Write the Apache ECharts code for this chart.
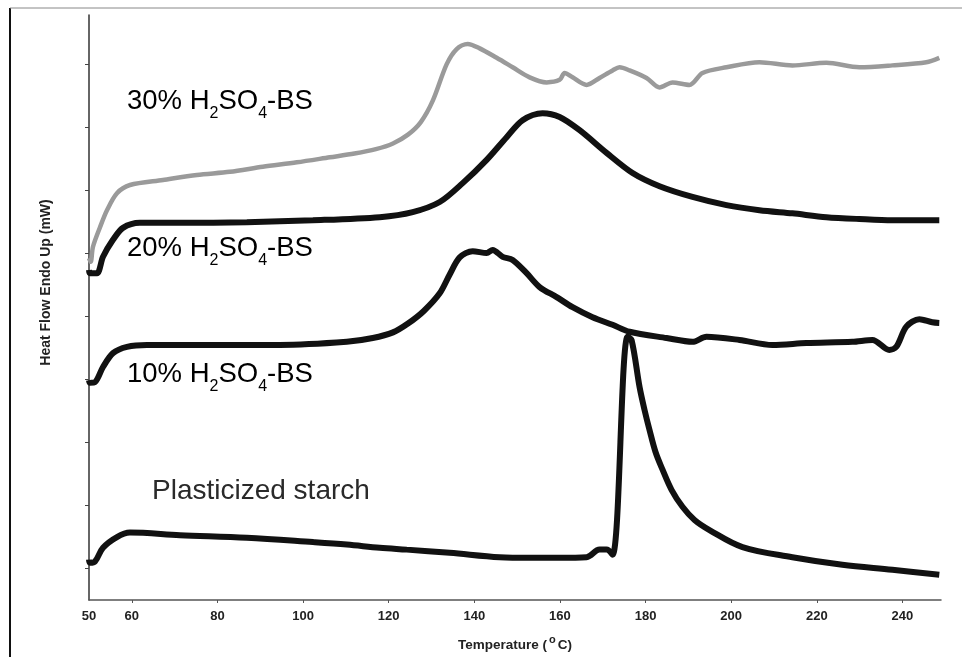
<!DOCTYPE html>
<html>
<head>
<meta charset="utf-8">
<script src="https://cdn.jsdelivr.net/npm/echarts@6/dist/echarts.min.js"></script>
<style>
html,body{margin:0;padding:0;background:#fff;}
#chart{width:967px;height:657px;}
</style>
</head>
<body>
<div id="chart"></div>
<script>
// Temperature (°C) tick labels
const xLabelValues = [50, 60, 80, 100, 120, 140, 160, 180, 200, 220, 240];
const xTickValues = [60, 80, 100, 120, 140, 160, 180, 200, 220, 240];
const yTickValues = [0, 1, 2, 3, 4, 5, 6, 7, 8];

// [temperature, heat flow (arb. mW units)]
const acid30 = [[50,4.92],[50.4,4.86],[50.93,5.10],[52.57,5.41],[54.2,5.68],[56.53,5.95],[59.57,6.08],[67.27,6.16],[75.2,6.24],[82.9,6.29],[90.6,6.37],[98.54,6.44],[106.24,6.52],[112,6.58],[117,6.65],[121,6.74],[124.5,6.88],[127.5,7.08],[130.3,7.42],[133.55,8.0],[135.88,8.24],[138.45,8.32],[141.25,8.25],[145.22,8.10],[148.95,7.95],[152.92,7.79],[156.88,7.71],[159.92,7.75],[161.08,7.86],[162.95,7.79],[166.22,7.67],[169.25,7.78],[172.29,7.90],[173.92,7.95],[176.26,7.90],[180.22,7.78],[183.26,7.63],[186.29,7.71],[190.26,7.67],[193.29,7.86],[198.89,7.95],[206.59,8.03],[214.29,7.98],[222.23,8.02],[229.93,7.95],[237.63,7.98],[245.57,8.03],[248.6,8.10]];

const acid20 = [[50,4.73],[50.23,4.68],[51.87,4.68],[53.27,4.94],[55.6,5.21],[57.93,5.40],[61.9,5.48],[71.24,5.48],[86.87,5.49],[102.3,5.52],[117.91,5.57],[125.61,5.65],[131.91,5.81],[137.28,6.11],[142.88,6.48],[147.55,6.84],[151.28,7.11],[155.95,7.22],[159.92,7.16],[164.59,6.95],[170.89,6.59],[176.96,6.27],[183.26,6.06],[190.96,5.89],[198.89,5.76],[206.59,5.68],[214.29,5.63],[222.23,5.57],[229.93,5.54],[237.63,5.52],[248.6,5.52]];

const acid10 = [[50,2.98],[50.23,2.94],[51.4,2.95],[53.27,3.19],[55.6,3.41],[58.87,3.51],[63.54,3.54],[78.94,3.54],[94.57,3.54],[110.21,3.59],[116.28,3.65],[121,3.74],[124.5,3.88],[128.2,4.08],[131.91,4.36],[134.25,4.66],[136.58,4.93],[139.61,5.03],[142.88,5.0],[144.28,5.05],[146.62,4.94],[148.95,4.89],[152.22,4.68],[155.25,4.46],[159.22,4.30],[162.95,4.14],[167.62,3.98],[172.29,3.86],[176.26,3.75],[184.89,3.65],[190.96,3.59],[194.23,3.67],[201.93,3.62],[209.63,3.54],[217.56,3.57],[228.3,3.59],[232.97,3.62],[236.93,3.46],[238.57,3.51],[240.9,3.83],[243.94,3.95],[246.97,3.90],[248.6,3.89]];

const plasticized = [[50,0.13],[50.23,0.08],[51.4,0.10],[53.27,0.32],[56.53,0.49],[59.57,0.56],[71.24,0.52],[86.87,0.48],[102.3,0.41],[110.21,0.37],[117.91,0.32],[124.21,0.29],[134.25,0.24],[145.92,0.17],[152.92,0.16],[159.92,0.16],[166.22,0.17],[169.25,0.29],[170.89,0.29],[172.29,0.21],[175.79,3.67],[176.73,3.62],[178.6,2.87],[179.75,2.51],[180.92,2.19],[182.32,1.84],[183.96,1.56],[186.06,1.24],[188.62,0.97],[191.43,0.76],[194.93,0.60],[202.63,0.33],[214.29,0.17],[225.96,0.05],[237.63,-0.03],[248.6,-0.11]];

const chart = echarts.init(document.getElementById('chart'));

function labelText(pre, sub1, mid, sub2, post) {
  return '{n|' + pre + '}{s|' + sub1 + '}{n|' + mid + '}{s|' + sub2 + '}{n|' + post + '}';
}
const FONT = 'Liberation Sans, Arial, sans-serif';
const richLabel = {
  n: {fontFamily: FONT, fontSize: 27.5, color: '#2a2a2a', lineHeight: 34, verticalAlign: 'bottom'},
  s: {fontFamily: FONT, fontSize: 16, color: '#2a2a2a', lineHeight: 34, verticalAlign: 'bottom', padding: [0, 0, -7, 0]}
};

const option = {
  backgroundColor: '#fff',
  animation: false,
  grid: {left: 89, right: 26, top: 15, bottom: 57},
  xAxis: {
    type: 'value', min: 50, max: 249,
    name: '{b|Temperature (}{sup|o}{b|C)}',
    nameLocation: 'middle', nameGap: 34,
    nameTextStyle: {
      rich: {
        b: {fontFamily: FONT, fontWeight: 'bold', fontSize: 13.5, color: '#222', verticalAlign: 'bottom', lineHeight: 18},
        sup: {fontFamily: FONT, fontWeight: 'bold', fontSize: 11, color: '#222', verticalAlign: 'top', lineHeight: 18, padding: [0, 2, 7, 2]}
      }
    },
    splitLine: {show: false},
    axisLine: {onZero: false, lineStyle: {color: '#555', width: 1.5}},
    axisTick: {show: true, customValues: xTickValues, length: 3, lineStyle: {color: '#555'}},
    axisLabel: {customValues: xLabelValues, fontFamily: FONT, fontWeight: 'bold', fontSize: 13, color: '#222', margin: 10}
  },
  yAxis: {
    type: 'value', min: -0.51, max: 8.78,
    name: 'Heat Flow Endo Up (mW)',
    nameLocation: 'middle', nameGap: 36,
    nameTextStyle: {fontFamily: FONT, fontWeight: 'bold', fontSize: 14, color: '#222', padding: [0, 0, 0, 50]},
    splitLine: {show: false},
    axisLine: {onZero: false, lineStyle: {color: '#333', width: 1.5}},
    axisTick: {show: true, customValues: yTickValues, length: 4, lineStyle: {color: '#444'}},
    axisLabel: {show: false}
  },
  series: [
    {name: '30% H2SO4-BS', type: 'line', data: acid30, showSymbol: false, smooth: 0.3, lineStyle: {color: '#9a9a9a', width: 4.5}, z: 2},
    {name: '20% H2SO4-BS', type: 'line', data: acid20, showSymbol: false, smooth: 0.3, lineStyle: {color: '#111', width: 6}, z: 3},
    {name: '10% H2SO4-BS', type: 'line', data: acid10, showSymbol: false, smooth: 0.3, lineStyle: {color: '#111', width: 6}, z: 3},
    {name: 'Plasticized starch', type: 'line', data: plasticized, showSymbol: false, smooth: 0.35, lineStyle: {color: '#111', width: 6}, z: 3}
  ],
  graphic: [
    {type: 'line', shape: {x1: 10, y1: 8, x2: 10, y2: 657}, style: {stroke: '#111', lineWidth: 2}},
    {type: 'line', shape: {x1: 10, y1: 8, x2: 962, y2: 8}, style: {stroke: '#888', lineWidth: 1}},
    {type: 'text', left: 127, top: 87, style: {text: labelText('30% H', '2', 'SO', '4', '-BS'), rich: richLabel}},
    {type: 'text', left: 127, top: 234, style: {text: labelText('20% H', '2', 'SO', '4', '-BS'), rich: richLabel}},
    {type: 'text', left: 127, top: 360, style: {text: labelText('10% H', '2', 'SO', '4', '-BS'), rich: richLabel}},
    {type: 'text', left: 152, top: 477, style: {text: 'Plasticized starch', fontFamily: FONT, fontSize: 28, fill: '#2a2a2a'}}
  ]
};
chart.setOption(option);
</script>
</body>
</html>
